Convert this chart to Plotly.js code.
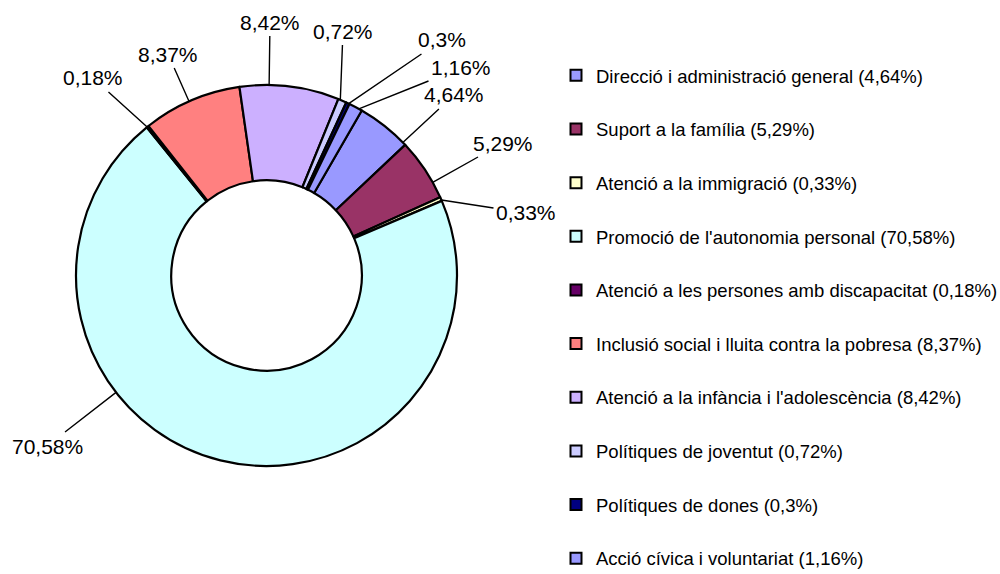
<!DOCTYPE html>
<html><head><meta charset="utf-8">
<script src="https://cdn.plot.ly/plotly-3.0.1.min.js"></script>
<style>html,body{margin:0;padding:0;background:#fff}#chart{width:1000px;height:574px}</style>
</head><body><div id="chart"></div>
<script>
// ---- data ----
const categories = [
  "Direcció i administració general",
  "Suport a la família",
  "Atenció a la immigració",
  "Promoció de l'autonomia personal",
  "Atenció a les persones amb discapacitat",
  "Inclusió social i lluita contra la pobresa",
  "Atenció a la infància i l'adolescència",
  "Polítiques de joventut",
  "Polítiques de dones",
  "Acció cívica i voluntariat"
];
const shares = [4.64, 5.29, 0.33, 70.58, 0.18, 8.37, 8.42, 0.72, 0.3, 1.16];

// ---- style ----
const colors = ["#9999FF", "#993366", "#FFFFCC", "#CCFFFF", "#660066",
                "#FF8080", "#CCB0FF", "#CCCCFF", "#000080", "#9999FF"];
const W = 1000, H = 574;
const CX = 266.5, CY = 275.5, R = 190.5, HOLE = 0.5, ROT = 30;
const FONT = "Liberation Sans, Arial, sans-serif";
// label centre offsets from the pie centre (px)
const labelOffsets = [[187.5,-180.5],[236.5,-132.5],[259.5,-62.5],[-219.5,170.5],[-173.5,-197.5],
                      [-98.5,-221.5],[3.5,-253.5],[76.5,-244.5],[175.5,-235.5],[194.5,-207.5]];

const fmt = v => String(v).replace('.', ',');
const total = shares.reduce((a, b) => a + b, 0);

const pie = {
  type: 'pie', values: shares, labels: categories, sort: false,
  direction: 'clockwise', rotation: ROT, hole: HOLE,
  textinfo: 'none', showlegend: false,
  marker: {colors: colors, line: {color: '#000', width: 2.2}},
  domain: {x: [(CX - R) / W, (CX + R) / W], y: [1 - (CY + R) / H, 1 - (CY - R) / H]},
  hovertemplate: '%{label}: %{value}%<extra></extra>'
};

const legendTraces = categories.map((c, i) => ({
  type: 'scatter', mode: 'markers', x: [null], y: [null],
  name: c + ' (' + fmt(shares[i]) + '%)', legendgroup: 'g' + i, showlegend: true,
  marker: {symbol: 'square', size: 11, color: colors[i], line: {color: '#000', width: 2}},
  hoverinfo: 'skip'
}));

// annotations: percentage labels with leader lines
const annotations = [];
let start = ROT;
shares.forEach((v, i) => {
  const a0 = start, a1 = start + v / total * 360;
  start = a1;
  const mid = (a0 + a1) / 2;
  const [dx, dy] = labelOffsets[i];
  let la = Math.atan2(dx, -dy) * 180 / Math.PI;
  while (la < mid - 180) la += 360;
  while (la > mid + 180) la -= 360;
  const inset = Math.min(0.25 * (a1 - a0), 1);
  const ta = Math.max(a0 + inset, Math.min(a1 - inset, la)) * Math.PI / 180;
  const tx = CX + R * Math.sin(ta), ty = CY - R * Math.cos(ta);
  annotations.push({
    xref: 'paper', yref: 'paper', x: tx / W, y: 1 - ty / H,
    axref: 'pixel', ayref: 'pixel', ax: CX + dx - tx, ay: CY + dy - ty,
    text: fmt(v) + '%', showarrow: true, arrowhead: 0, arrowwidth: 1.4,
    arrowcolor: '#000', standoff: 0, borderpad: 2,
    font: {family: FONT, size: 21, color: '#000'}
  });
});

const layout = {
  width: W, height: H, margin: {l: 0, r: 0, t: 0, b: 0, autoexpand: false},
  paper_bgcolor: '#fff', plot_bgcolor: 'rgba(0,0,0,0)',
  xaxis: {visible: false, domain: [0.99, 1]}, yaxis: {visible: false, domain: [0.99, 1]},
  showlegend: true,
  legend: {x: 0.556, y: 0.901, xanchor: 'left', yanchor: 'top', traceorder: 'grouped',
           tracegroupgap: 26.6, itemsizing: 'trace', bgcolor: 'rgba(0,0,0,0)', maxheight: 2000,
           font: {family: FONT, size: 18.5, color: '#000'}},
  annotations: annotations
};

Plotly.newPlot('chart', [pie].concat(legendTraces), layout, {staticPlot: true, displayModeBar: false});
</script>
</body></html>
